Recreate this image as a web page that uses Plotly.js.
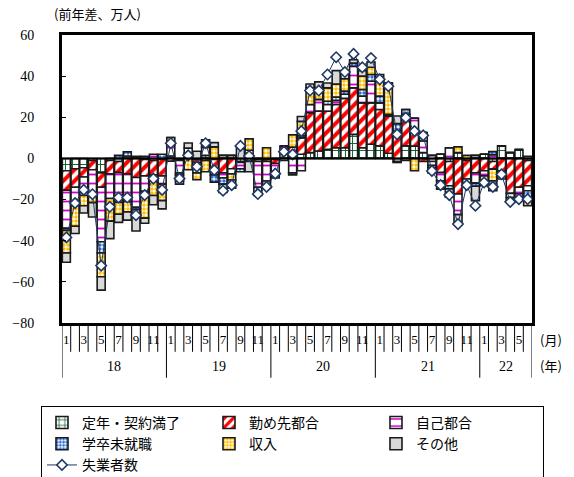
<!DOCTYPE html>
<html>
<head>
<meta charset="utf-8">
<script src="https://cdn.plot.ly/plotly-3.0.1.min.js"></script>
<style>
  html, body { margin: 0; padding: 0; background: #fff; }
  #chart { width: 574px; height: 477px; }
</style>
</head>
<body>
<div id="chart"></div>
<script>
// 失業者数の前年差（万人）と離職理由別の寄与, 2018年1月〜2022年6月
const year  = ['18','18','18','18','18','18','18','18','18','18','18','18',
               '19','19','19','19','19','19','19','19','19','19','19','19',
               '20','20','20','20','20','20','20','20','20','20','20','20',
               '21','21','21','21','21','21','21','21','21','21','21','21',
               '22','22','22','22','22','22'];
const month = [1,2,3,4,5,6,7,8,9,10,11,12,
               1,2,3,4,5,6,7,8,9,10,11,12,
               1,2,3,4,5,6,7,8,9,10,11,12,
               1,2,3,4,5,6,7,8,9,10,11,12,
               1,2,3,4,5,6];
const yearLabels = ['18','19','20','21','22'];

// 定年・契約満了
const teinen = [-6,-5,-4.5,-1,-7,-1,-1.5,1.2,1,-0.5,-1,-0.5,
                1.2,-0.5,1,-0.5,1.5,-0.5,1.5,1.5,-1.5,1.5,-0.5,-0.5,
                -0.5,2.5,1.5,2,2.8,3.6,4.4,5.2,5.2,11.7,5.2,6.9,
                6.1,2.5,-1.5,6.1,6,2.8,-1.5,2,-1.5,2.8,-1,1.5,
                2,-1.5,6.1,2.8,4.3,-1];
// 勤め先都合
const kinmusaki = [-9.5,-9,-4.5,-4.5,-7,-6.5,-5.4,-7.5,-9.3,-8,-7,-8,
                   -1.3,-0.5,1.5,-1.5,-1,-5,-7,-5,-0.5,-1,-1,-1,
                   -2,1,4,8,19.4,19.4,18.5,21,24,22.6,21.8,20.1,
                   17.7,18,12,12.9,7,-1.5,1.5,-6.9,-11.8,-17.3,-9,-7,
                   -6,-3.7,-6,-17,-14,-12.3];
// 自己都合
const jiko = [-18.5,-9,-9,-12,-26.5,-12,-14.5,-13.5,-14.5,-7.5,2,-4,
              5.5,-6,2.5,-5,4,-2.5,-2.5,-2.5,-3,2.5,-12.5,-9.5,
              -4,2.5,-7,-6,4,5.7,3.3,2,2,10.5,3.3,10.5,
              3.2,0.5,1.3,2.4,6.5,5.7,-2,-4,5.2,-10,-2,-5,
              -2.5,1.8,-1.5,-2,-3.2,-2.4];
// 学卒未就職
const gakusotsu = [-1,0,0,-1,-5.5,0,1.5,2,-1,1,-1,2,
                   0,-1,0,0,0,-3.5,-3,0,-1.5,-0.5,0,0,
                   -0.5,0,-1,1,0,0,1.6,1.6,1.5,1.6,3.2,3.3,
                   3.3,0.5,3.6,2.4,0,4.1,-1,0,-1.5,0,0,-1.5,
                   0,1.5,0,-1.5,-2.5,-4.1];
// 収入
const shunyu = [-11,-10,-5,-3,-11.5,-11,-5.7,-5,-2.5,-13,-9,-8,
                3.5,-3,-5.5,-3.3,-5.5,5.6,0,-3,0,5.5,0,5.2,
                0,-1,6,7,8.1,5.6,6.5,6.3,6,0,6.5,3.5,
                7.2,15,-0.5,-1,-6,0,0,0,0,2.8,1.5,0,
                0,-5.7,0,0,0,-3.2];
// その他
const sonota = [-4.5,-3.5,-3.5,-7,-6.5,-8.5,-4,-4,-8,-2.5,-4.5,-4,
                0,-1.5,2.5,3.5,3.5,2.1,-4,-4,6,-5,-4,-3.5,
                -2.5,0,0,2.4,1.9,2.9,2.4,6.6,2.5,1.6,2.7,2.6,
                3.3,0.2,3.7,0,0,0,-2.5,-4,-4,-5,-1.5,-7,
                -4.8,-4.8,-2.5,0,0,1];
// 失業者数
const shitsugyo = [-38.4,-21.7,-15.3,-17.4,-52.1,-23.5,-19.0,-19.0,-27.6,-17.8,-9.8,-15.3,
                   7.4,-9.8,1.5,-4.0,7.4,-5.7,-15.7,-13.0,6.1,1.2,-17.3,-13.8,
                   -7.4,3.3,2.0,13.3,33.0,33.0,40.8,49.2,42.0,50.8,44.3,48.8,
                   38.4,35.1,11.7,19.8,13.3,11.2,-6.1,-13.0,-17.8,-31.9,-13.0,-23.0,
                   -11.7,-13.8,-7.7,-21.1,-19.8,-19.8];

const idx = month.map((m, i) => i);
const outline = { color: '#1a1a1a', width: 1.6 };

function barTrace(name, values, pattern, color) {
  return {
    type: 'bar', name: name, x: idx, y: values,
    marker: { color: color, line: outline, pattern: pattern },
    hoverinfo: 'skip'
  };
}

const traces = [
  barTrace('定年・契約満了', teinen,
    { shape: '+', fgcolor: '#0b5a2c', bgcolor: '#ffffff', size: 7, solidity: 0.25, fillmode: 'replace' }, '#ffffff'),
  barTrace('勤め先都合', kinmusaki,
    { shape: '/', fgcolor: '#ff0000', bgcolor: '#ffffff', size: 8, solidity: 0.5, fillmode: 'replace' }, '#ffffff'),
  barTrace('自己都合', jiko,
    { shape: '-', fgcolor: '#d000d0', bgcolor: '#ffffff', size: 9, solidity: 0.2, fillmode: 'replace' }, '#ffffff'),
  barTrace('学卒未就職', gakusotsu,
    { shape: '.', fgcolor: '#2f6fd6', bgcolor: '#ffffff', size: 4, solidity: 0.6, fillmode: 'replace' }, '#ffffff'),
  barTrace('収入', shunyu,
    { shape: '.', fgcolor: '#ffc000', bgcolor: '#ffffff', size: 4, solidity: 0.6, fillmode: 'replace' }, '#ffffff'),
  barTrace('その他', sonota, { shape: '' }, '#d9d9d9'),
  {
    type: 'scatter', mode: 'lines+markers', name: '失業者数',
    x: idx, y: shitsugyo,
    line: { color: '#1f3864', width: 1 },
    marker: { symbol: 'diamond', size: 8, color: '#ffffff', line: { color: '#1f3864', width: 1.6 } },
    hoverinfo: 'skip'
  }
];

// odd months get a label under the axis
const tickIdx = idx.filter(i => month[i] % 2 === 1);
const tickTxt = tickIdx.map(i => String(month[i]));

// separators under the plot: short ones between months, long ones between years
const shapes = [];
for (let i = 0; i <= idx.length; i++) {
  const yearStart = (i === 0) || (i === idx.length) || (month[i] === 1);
  shapes.push({
    type: 'line', xref: 'x', yref: 'paper',
    x0: i - 0.5, x1: i - 0.5, y0: 0, y1: yearStart ? -0.19 : -0.1,
    line: { color: '#000', width: 1 }, layer: 'above'
  });
}
// zero line drawn over the bars
shapes.push({
  type: 'line', xref: 'paper', yref: 'y', x0: 0, x1: 1, y0: 0, y1: 0,
  line: { color: '#000', width: 2 }, layer: 'above'
});

const annotations = [];
yearLabels.forEach(yr => {
  const members = idx.filter(i => year[i] === yr);
  const mid = (members[0] + members[members.length - 1]) / 2;
  annotations.push({
    xref: 'x', yref: 'paper', x: mid, y: -0.152, yanchor: 'middle', text: yr, showarrow: false,
    font: { family: 'Liberation Serif, serif', size: 14, color: '#000' }
  });
});
annotations.push(
  { xref: 'paper', yref: 'paper', x: 1.012, y: -0.059, xanchor: 'left', yanchor: 'middle',
    text: '(月)', showarrow: false,
    font: { family: 'Noto Sans CJK JP', size: 13, color: '#000' } },
  { xref: 'paper', yref: 'paper', x: 1.012, y: -0.149, xanchor: 'left', yanchor: 'middle',
    text: '(年)', showarrow: false,
    font: { family: 'Noto Sans CJK JP', size: 13, color: '#000' } },
  { xref: 'paper', yref: 'paper', x: -0.021, y: 1.073, xanchor: 'left', yanchor: 'middle',
    text: '(前年差、万人)', showarrow: false,
    font: { family: 'Noto Sans CJK JP', size: 13, color: '#000' } }
);

const layout = {
  width: 574, height: 477,
  margin: { l: 62, r: 42, t: 35, b: 154, autoexpand: false },
  paper_bgcolor: '#ffffff', plot_bgcolor: '#ffffff',
  barmode: 'relative', bargap: 0.08,
  showlegend: true,
  font: { family: 'Liberation Serif, serif', size: 14, color: '#000' },
  xaxis: {
    range: [-0.5, idx.length - 0.5],
    tickmode: 'array', tickvals: tickIdx, ticktext: tickTxt,
    ticks: '', showgrid: false, zeroline: false,
    showline: true, linecolor: '#000', linewidth: 3, mirror: true,
    tickfont: { family: 'Liberation Serif, serif', size: 13, color: '#000' },
    ticklabelstandoff: 2
  },
  yaxis: {
    range: [-80, 60], dtick: 20, tick0: 0,
    ticks: 'inside', ticklen: 4, tickcolor: '#000',
    showgrid: false, zeroline: false,
    showline: true, linecolor: '#000', linewidth: 3, mirror: true,
    tickfont: { family: 'Liberation Serif, serif', size: 14, color: '#000' },
    ticklabelstandoff: 22
  },
  legend: {
    orientation: 'h', traceorder: 'normal',
    x: -0.0447, y: -0.288, xanchor: 'left', yanchor: 'top',
    entrywidth: 122, entrywidthmode: 'pixels',
    bordercolor: '#000', borderwidth: 1, bgcolor: '#ffffff',
    font: { family: 'Noto Sans CJK JP', size: 14, color: '#000' }
  },
  shapes: shapes,
  annotations: annotations
};

Plotly.newPlot('chart', traces, layout, { displayModeBar: false, staticPlot: true });
</script>
</body>
</html>
